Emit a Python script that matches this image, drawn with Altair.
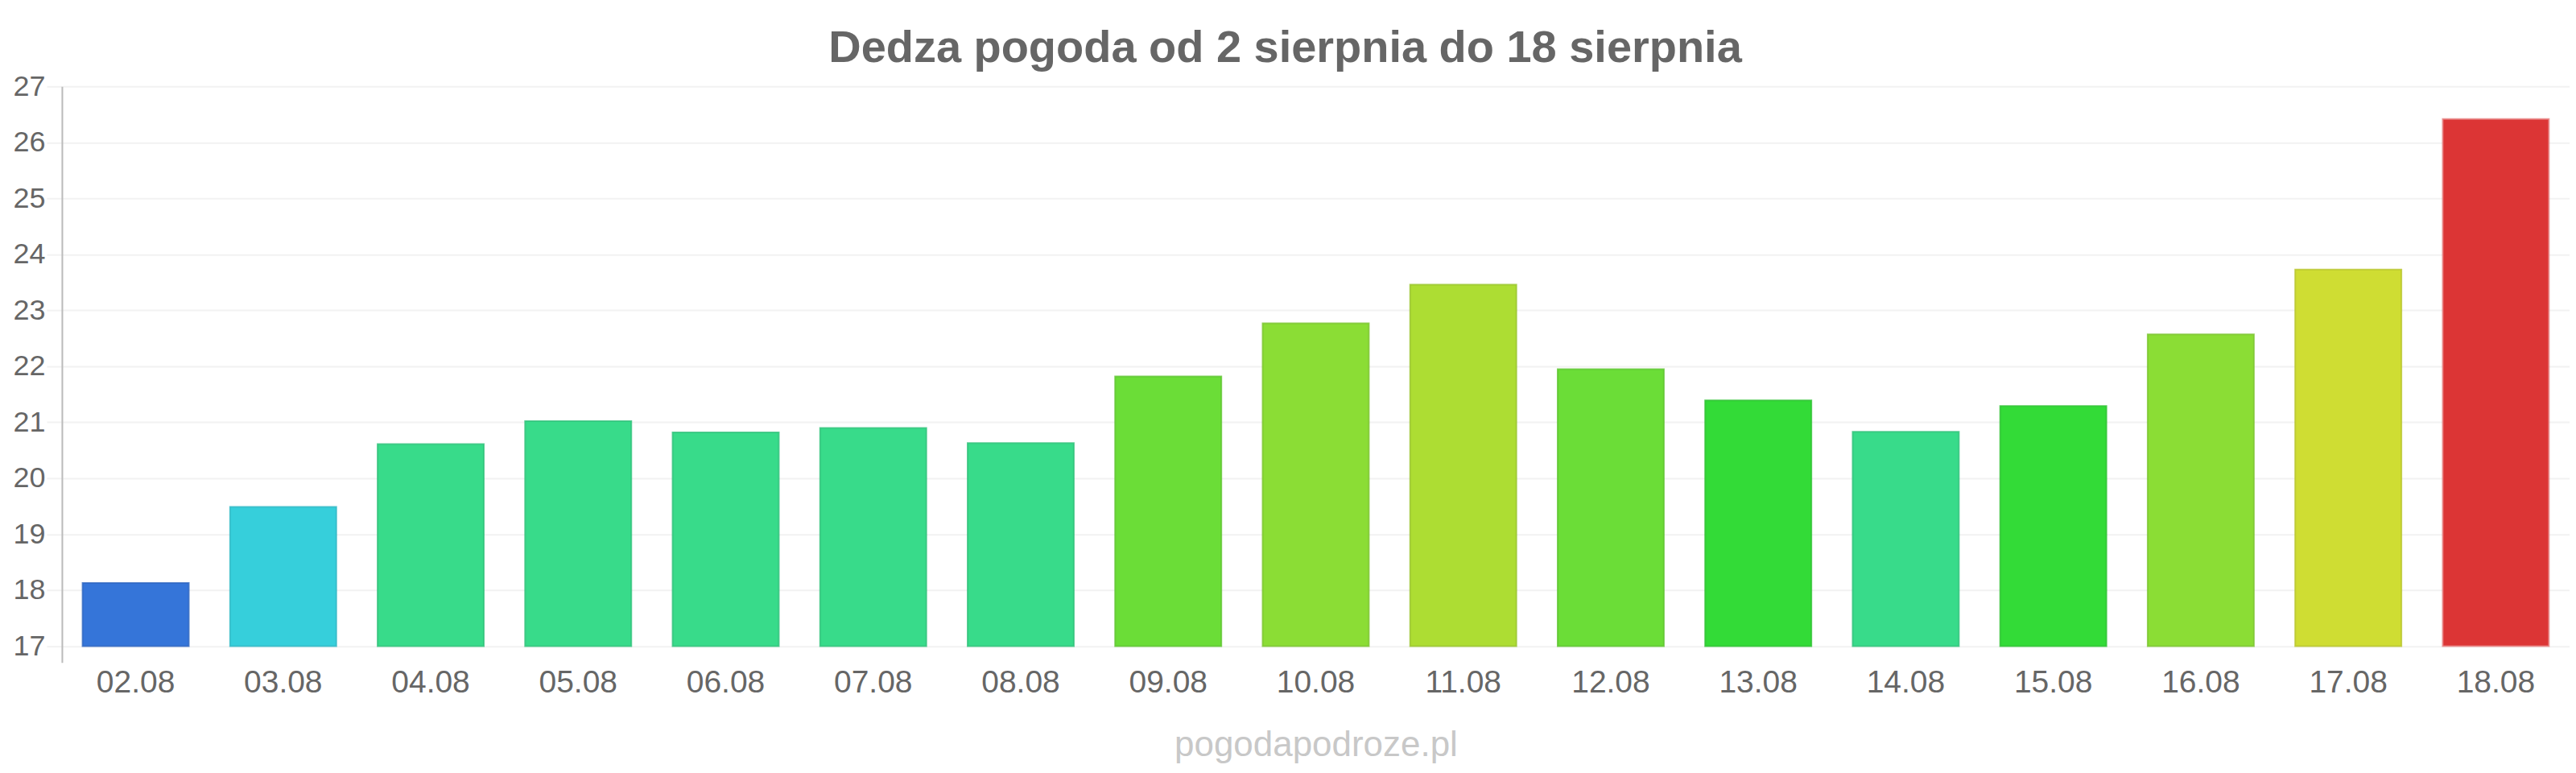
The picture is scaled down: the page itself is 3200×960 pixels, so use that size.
import altair as alt
import pandas as pd

dates = ["02.08", "03.08", "04.08", "05.08", "06.08", "07.08", "08.08", "09.08", "10.08",
         "11.08", "12.08", "13.08", "14.08", "15.08", "16.08", "17.08", "18.08"]
temps = [18.13, 19.49, 20.61, 21.02, 20.82, 20.90, 20.63, 21.82, 22.77,
         23.46, 21.95, 21.39, 20.83, 21.29, 22.57, 23.73, 26.42]
fills = ["#3575d9", "#36cfdb", "#38db8a", "#38db8a", "#38db8a", "#38db8a", "#38db8a", "#6bdd37", "#8bdd35",
         "#addd33", "#6bdd37", "#33db37", "#38db8a", "#33db37", "#8bdd35", "#cfdd33", "#dc3535"]
strokes = ["#2f66c0", "#30b8c4", "#31c27a", "#31c27a", "#31c27a", "#31c27a", "#31c27a", "#5ec430", "#7ac42f",
           "#99c42d", "#5ec430", "#2dc231", "#31c27a", "#2dc231", "#7ac42f", "#b8c42d", "#e88a8a"]
y_ticks = [17, 18, 19, 20, 21, 22, 23, 24, 25, 26, 27]
baseline = 17
title_text = "Dedza pogoda od 2 sierpnia do 18 sierpnia"
footer_text = "pogodapodroze.pl"

df = pd.DataFrame({"date": dates, "temp": temps, "fill": fills, "stroke": strokes})
df["base"] = baseline

FONT = "Liberation Sans"

chart = alt.Chart(df).mark_bar(strokeWidth=2, strokeOpacity=0.8).encode(
    x=alt.X("date:N", sort=dates,
            scale=alt.Scale(paddingInner=0.28, paddingOuter=0.14),
            axis=alt.Axis(title=footer_text, titleColor="#c8c8c8", titleFontSize=44,
                          titleFontWeight="normal", titleFont=FONT, titlePadding=36,
                          labelAngle=0, labelFont=FONT, labelFontSize=39, labelColor="#666666",
                          labelBaseline="middle", labelPadding=25, ticks=False, tickSize=0,
                          domain=False, grid=False)),
    y=alt.Y("temp:Q", scale=alt.Scale(domain=[16.71, 27], nice=False, zero=False),
            axis=alt.Axis(title=None, values=y_ticks, labelFont=FONT, labelFontSize=36,
                          labelColor="#666666", labelPadding=2, tickSize=19, tickColor="#f2f2f2",
                          tickWidth=2, gridColor="#f2f2f2", gridWidth=2,
                          domainColor="#bbbbbb", domainWidth=2)),
    y2="base:Q",
    color=alt.Color("date:N", scale=alt.Scale(domain=dates, range=fills), legend=None),
    stroke=alt.Stroke("date:N", scale=alt.Scale(domain=dates, range=strokes), legend=None),
).properties(
    width=3118,
    height=716,
    padding={"left": 69, "top": 99, "right": 0, "bottom": 125},
    autosize=alt.AutoSizeParams(type="none"),
    title=alt.TitleParams(title_text, font=FONT, fontSize=56, fontWeight="bold",
                          color="#666666", anchor="middle", dx=-38, offset=0),
).configure_view(stroke=None)

chart.save("out.html", embed_options={"renderer": "svg", "actions": False})
